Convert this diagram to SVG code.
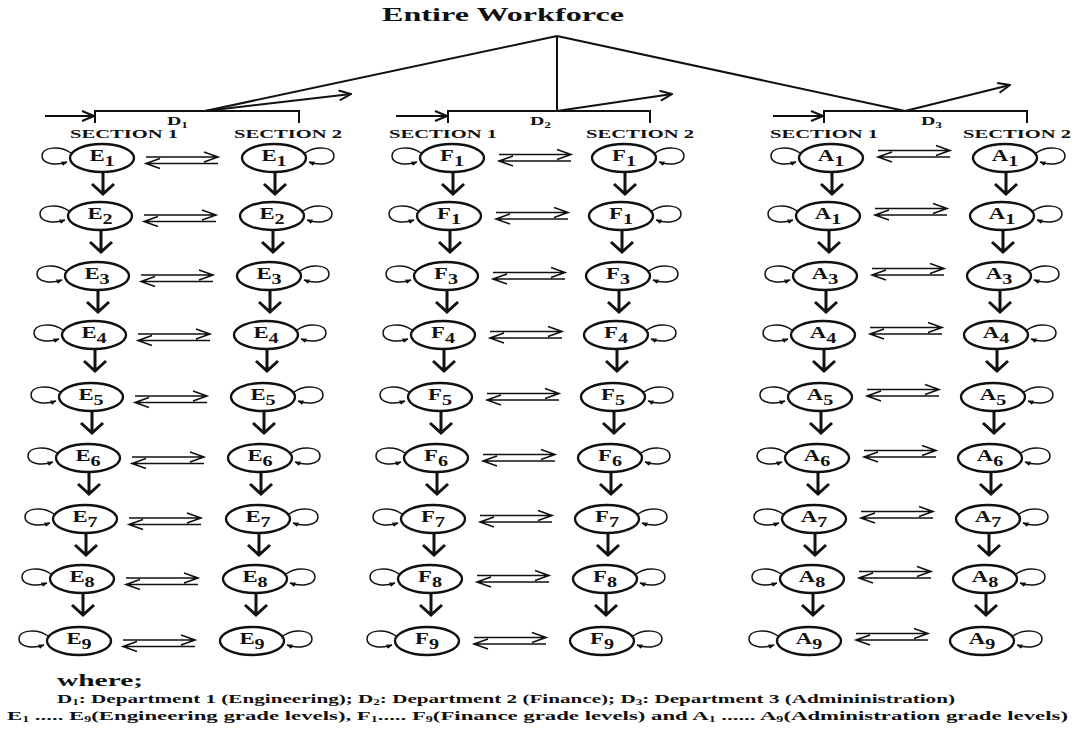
<svg xmlns="http://www.w3.org/2000/svg" xmlns:xlink="http://www.w3.org/1999/xlink" width="1078" height="729" viewBox="0 0 1078 729">
<style>
text{font-family:"Liberation Serif","Times New Roman",serif;font-weight:bold;fill:#111}
.nd{fill:#fff;stroke:#111;stroke-width:2.4}
.lb{font-size:17.5px;text-anchor:middle}
.ss{font-size:15.5px}
.ln{fill:none;stroke:#111;stroke-width:2}
.sec{font-size:11.5px}
.dl{font-size:12px}
.leg{font-size:13px}
.sb{font-size:8px}
</style>
<defs>
<marker id="tri" viewBox="0 0 10 10" refX="9" refY="5" markerWidth="6" markerHeight="6" markerUnits="userSpaceOnUse" orient="auto"><path d="M0,1 L10,5 L0,9 z" fill="#111"/></marker>
<marker id="chev" viewBox="0 0 14 12" refX="13" refY="6" markerWidth="14" markerHeight="12" markerUnits="userSpaceOnUse" orient="auto"><path d="M1,1 L13,6 L1,11" fill="none" stroke="#111" stroke-width="2"/></marker>
<path id="loopL" d="M-31,-5 C-42,-13 -60,-11 -60,-2 C-60,6 -46,8 -35,4" fill="none" stroke="#111" stroke-width="1.5" marker-end="url(#tri)"/>
<path id="loopR" d="M31,-5 C42,-13 60,-11 60,-2 C60,6 46,8 35,4" fill="none" stroke="#111" stroke-width="1.5" marker-end="url(#tri)"/>
<path id="down" d="M0,15 V36 M-11,26 L0,36 L11,26" fill="none" stroke="#111" stroke-width="3"/>
<path id="dbl" d="M0,0 H72 M58,-5 L72,0 L58,5 M0,6.5 H72 M14,1.5 L0,6.5 L14,11.5" fill="none" stroke="#111" stroke-width="1.6"/>
</defs>
<rect width="1078" height="729" fill="#fff"/>

<g id="title"><text x="382" y="21" font-size="18.5" textLength="242" lengthAdjust="spacingAndGlyphs">Entire Workforce</text></g>

<g id="hierarchy">
<path class="ln" d="M557,36 L205,111 M557,36 V111 M557,36 L905,111"/>
<path class="ln" d="M95,123 V111 H299 V123 M448,123 V111 H650 V123 M824,123 V111 H1027 V123"/>
<path class="ln" marker-end="url(#chev)" d="M45,116 H94"/>
<path class="ln" marker-end="url(#chev)" d="M396,116 H447"/>
<path class="ln" marker-end="url(#chev)" d="M773,116 H823"/>
<path class="ln" marker-end="url(#chev)" d="M205,111 L351,94"/>
<path class="ln" marker-end="url(#chev)" d="M557,111 L672,94"/>
<path class="ln" marker-end="url(#chev)" d="M905,111 L1010,85"/>
<text class="dl" x="167" y="125" textLength="21" lengthAdjust="spacingAndGlyphs">D<tspan class="sb" font-size="9" dy="3">1</tspan></text>
<text class="dl" x="530" y="125" textLength="21" lengthAdjust="spacingAndGlyphs">D<tspan class="sb" font-size="9" dy="3">2</tspan></text>
<text class="dl" x="921" y="125" textLength="21" lengthAdjust="spacingAndGlyphs">D<tspan class="sb" font-size="9" dy="3">3</tspan></text>
<text class="sec" x="70" y="137.5" textLength="108" lengthAdjust="spacingAndGlyphs">SECTION 1</text>
<text class="sec" x="234" y="137.5" textLength="108" lengthAdjust="spacingAndGlyphs">SECTION 2</text>
<text class="sec" x="389" y="137.5" textLength="108" lengthAdjust="spacingAndGlyphs">SECTION 1</text>
<text class="sec" x="586" y="137.5" textLength="108" lengthAdjust="spacingAndGlyphs">SECTION 2</text>
<text class="sec" x="770" y="137.5" textLength="108" lengthAdjust="spacingAndGlyphs">SECTION 1</text>
<text class="sec" x="963" y="137.5" textLength="108" lengthAdjust="spacingAndGlyphs">SECTION 2</text>
</g>

<g id="connectors">
<use href="#down" x="103" y="158"/><use href="#down" x="101" y="216"/><use href="#down" x="98" y="276"/><use href="#down" x="95" y="335"/><use href="#down" x="92" y="397"/><use href="#down" x="89" y="458"/><use href="#down" x="86" y="519"/><use href="#down" x="83" y="579"/>
<use href="#down" x="275" y="158"/><use href="#down" x="273" y="216"/><use href="#down" x="270" y="276"/><use href="#down" x="267" y="335"/><use href="#down" x="264" y="397"/><use href="#down" x="261" y="458"/><use href="#down" x="259" y="519"/><use href="#down" x="256" y="579"/>
<use href="#down" x="453" y="158"/><use href="#down" x="450" y="216"/><use href="#down" x="447" y="276"/><use href="#down" x="444" y="335"/><use href="#down" x="441" y="397"/><use href="#down" x="437" y="458"/><use href="#down" x="434" y="519"/><use href="#down" x="431" y="579"/>
<use href="#down" x="625" y="158"/><use href="#down" x="622" y="216"/><use href="#down" x="619" y="276"/><use href="#down" x="617" y="335"/><use href="#down" x="614" y="397"/><use href="#down" x="611" y="458"/><use href="#down" x="608" y="519"/><use href="#down" x="606" y="579"/>
<use href="#down" x="832" y="158"/><use href="#down" x="829" y="216"/><use href="#down" x="826" y="276"/><use href="#down" x="824" y="335"/><use href="#down" x="821" y="397"/><use href="#down" x="818" y="458"/><use href="#down" x="815" y="519"/><use href="#down" x="813" y="579"/>
<use href="#down" x="1006" y="158"/><use href="#down" x="1003" y="216"/><use href="#down" x="1000" y="276"/><use href="#down" x="997" y="335"/><use href="#down" x="994" y="397"/><use href="#down" x="991" y="458"/><use href="#down" x="989" y="519"/><use href="#down" x="986" y="579"/>
<use href="#dbl" x="146" y="157"/><use href="#dbl" x="144" y="215"/><use href="#dbl" x="141" y="275"/><use href="#dbl" x="138" y="334"/><use href="#dbl" x="135" y="396"/><use href="#dbl" x="132" y="457"/><use href="#dbl" x="129" y="518"/><use href="#dbl" x="126" y="578"/><use href="#dbl" x="123" y="640"/>
<use href="#dbl" x="499" y="154.5"/><use href="#dbl" x="496" y="212.5"/><use href="#dbl" x="493" y="272.5"/><use href="#dbl" x="490" y="331.5"/><use href="#dbl" x="487" y="393.5"/><use href="#dbl" x="483" y="454.5"/><use href="#dbl" x="480" y="515.5"/><use href="#dbl" x="477" y="575.5"/><use href="#dbl" x="474" y="637.5"/>
<use href="#dbl" x="878" y="150.5"/><use href="#dbl" x="875" y="208.5"/><use href="#dbl" x="872" y="268.5"/><use href="#dbl" x="870" y="327.5"/><use href="#dbl" x="867" y="389.5"/><use href="#dbl" x="864" y="450.5"/><use href="#dbl" x="861" y="511.5"/><use href="#dbl" x="859" y="571.5"/><use href="#dbl" x="856" y="633.5"/>
</g>

<g id="E1-s1" transform="translate(102,158)"><ellipse class="nd" rx="32" ry="14"/><use href="#loopL"/><text class="lb" transform="scale(1.3,1)" y="3">E<tspan class="ss" dy="4.5">1</tspan></text></g>
<g id="E2-s1" transform="translate(100,216)"><ellipse class="nd" rx="32" ry="14"/><use href="#loopL"/><text class="lb" transform="scale(1.3,1)" y="3">E<tspan class="ss" dy="4.5">2</tspan></text></g>
<g id="E3-s1" transform="translate(97,276)"><ellipse class="nd" rx="32" ry="14"/><use href="#loopL"/><text class="lb" transform="scale(1.3,1)" y="3">E<tspan class="ss" dy="4.5">3</tspan></text></g>
<g id="E4-s1" transform="translate(94,335)"><ellipse class="nd" rx="32" ry="14"/><use href="#loopL"/><text class="lb" transform="scale(1.3,1)" y="3">E<tspan class="ss" dy="4.5">4</tspan></text></g>
<g id="E5-s1" transform="translate(91,397)"><ellipse class="nd" rx="32" ry="14"/><use href="#loopL"/><text class="lb" transform="scale(1.3,1)" y="3">E<tspan class="ss" dy="4.5">5</tspan></text></g>
<g id="E6-s1" transform="translate(88,458)"><ellipse class="nd" rx="32" ry="14"/><use href="#loopL"/><text class="lb" transform="scale(1.3,1)" y="3">E<tspan class="ss" dy="4.5">6</tspan></text></g>
<g id="E7-s1" transform="translate(85,519)"><ellipse class="nd" rx="32" ry="14"/><use href="#loopL"/><text class="lb" transform="scale(1.3,1)" y="3">E<tspan class="ss" dy="4.5">7</tspan></text></g>
<g id="E8-s1" transform="translate(82,579)"><ellipse class="nd" rx="32" ry="14"/><use href="#loopL"/><text class="lb" transform="scale(1.3,1)" y="3">E<tspan class="ss" dy="4.5">8</tspan></text></g>
<g id="E9-s1" transform="translate(79,641)"><ellipse class="nd" rx="32" ry="14"/><use href="#loopL"/><text class="lb" transform="scale(1.3,1)" y="3">E<tspan class="ss" dy="4.5">9</tspan></text></g>

<g id="E1-s2" transform="translate(274,158)"><ellipse class="nd" rx="32" ry="14"/><use href="#loopR"/><text class="lb" transform="scale(1.3,1)" y="3">E<tspan class="ss" dy="4.5">1</tspan></text></g>
<g id="E2-s2" transform="translate(272,216)"><ellipse class="nd" rx="32" ry="14"/><use href="#loopR"/><text class="lb" transform="scale(1.3,1)" y="3">E<tspan class="ss" dy="4.5">2</tspan></text></g>
<g id="E3-s2" transform="translate(269,276)"><ellipse class="nd" rx="32" ry="14"/><use href="#loopR"/><text class="lb" transform="scale(1.3,1)" y="3">E<tspan class="ss" dy="4.5">3</tspan></text></g>
<g id="E4-s2" transform="translate(266,335)"><ellipse class="nd" rx="32" ry="14"/><use href="#loopR"/><text class="lb" transform="scale(1.3,1)" y="3">E<tspan class="ss" dy="4.5">4</tspan></text></g>
<g id="E5-s2" transform="translate(263,397)"><ellipse class="nd" rx="32" ry="14"/><use href="#loopR"/><text class="lb" transform="scale(1.3,1)" y="3">E<tspan class="ss" dy="4.5">5</tspan></text></g>
<g id="E6-s2" transform="translate(260,458)"><ellipse class="nd" rx="32" ry="14"/><use href="#loopR"/><text class="lb" transform="scale(1.3,1)" y="3">E<tspan class="ss" dy="4.5">6</tspan></text></g>
<g id="E7-s2" transform="translate(258,519)"><ellipse class="nd" rx="32" ry="14"/><use href="#loopR"/><text class="lb" transform="scale(1.3,1)" y="3">E<tspan class="ss" dy="4.5">7</tspan></text></g>
<g id="E8-s2" transform="translate(255,579)"><ellipse class="nd" rx="32" ry="14"/><use href="#loopR"/><text class="lb" transform="scale(1.3,1)" y="3">E<tspan class="ss" dy="4.5">8</tspan></text></g>
<g id="E9-s2" transform="translate(252,641)"><ellipse class="nd" rx="32" ry="14"/><use href="#loopR"/><text class="lb" transform="scale(1.3,1)" y="3">E<tspan class="ss" dy="4.5">9</tspan></text></g>

<g id="F1-s1" transform="translate(452,158)"><ellipse class="nd" rx="32" ry="14"/><use href="#loopL"/><text class="lb" transform="scale(1.3,1)" y="3">F<tspan class="ss" dy="4.5">1</tspan></text></g>
<g id="F2-s1" transform="translate(449,216)"><ellipse class="nd" rx="32" ry="14"/><use href="#loopL"/><text class="lb" transform="scale(1.3,1)" y="3">F<tspan class="ss" dy="4.5">1</tspan></text></g>
<g id="F3-s1" transform="translate(446,276)"><ellipse class="nd" rx="32" ry="14"/><use href="#loopL"/><text class="lb" transform="scale(1.3,1)" y="3">F<tspan class="ss" dy="4.5">3</tspan></text></g>
<g id="F4-s1" transform="translate(443,335)"><ellipse class="nd" rx="32" ry="14"/><use href="#loopL"/><text class="lb" transform="scale(1.3,1)" y="3">F<tspan class="ss" dy="4.5">4</tspan></text></g>
<g id="F5-s1" transform="translate(440,397)"><ellipse class="nd" rx="32" ry="14"/><use href="#loopL"/><text class="lb" transform="scale(1.3,1)" y="3">F<tspan class="ss" dy="4.5">5</tspan></text></g>
<g id="F6-s1" transform="translate(436,458)"><ellipse class="nd" rx="32" ry="14"/><use href="#loopL"/><text class="lb" transform="scale(1.3,1)" y="3">F<tspan class="ss" dy="4.5">6</tspan></text></g>
<g id="F7-s1" transform="translate(433,519)"><ellipse class="nd" rx="32" ry="14"/><use href="#loopL"/><text class="lb" transform="scale(1.3,1)" y="3">F<tspan class="ss" dy="4.5">7</tspan></text></g>
<g id="F8-s1" transform="translate(430,579)"><ellipse class="nd" rx="32" ry="14"/><use href="#loopL"/><text class="lb" transform="scale(1.3,1)" y="3">F<tspan class="ss" dy="4.5">8</tspan></text></g>
<g id="F9-s1" transform="translate(427,641)"><ellipse class="nd" rx="32" ry="14"/><use href="#loopL"/><text class="lb" transform="scale(1.3,1)" y="3">F<tspan class="ss" dy="4.5">9</tspan></text></g>

<g id="F1-s2" transform="translate(624,158)"><ellipse class="nd" rx="32" ry="14"/><use href="#loopR"/><text class="lb" transform="scale(1.3,1)" y="3">F<tspan class="ss" dy="4.5">1</tspan></text></g>
<g id="F2-s2" transform="translate(621,216)"><ellipse class="nd" rx="32" ry="14"/><use href="#loopR"/><text class="lb" transform="scale(1.3,1)" y="3">F<tspan class="ss" dy="4.5">1</tspan></text></g>
<g id="F3-s2" transform="translate(618,276)"><ellipse class="nd" rx="32" ry="14"/><use href="#loopR"/><text class="lb" transform="scale(1.3,1)" y="3">F<tspan class="ss" dy="4.5">3</tspan></text></g>
<g id="F4-s2" transform="translate(616,335)"><ellipse class="nd" rx="32" ry="14"/><use href="#loopR"/><text class="lb" transform="scale(1.3,1)" y="3">F<tspan class="ss" dy="4.5">4</tspan></text></g>
<g id="F5-s2" transform="translate(613,397)"><ellipse class="nd" rx="32" ry="14"/><use href="#loopR"/><text class="lb" transform="scale(1.3,1)" y="3">F<tspan class="ss" dy="4.5">5</tspan></text></g>
<g id="F6-s2" transform="translate(610,458)"><ellipse class="nd" rx="32" ry="14"/><use href="#loopR"/><text class="lb" transform="scale(1.3,1)" y="3">F<tspan class="ss" dy="4.5">6</tspan></text></g>
<g id="F7-s2" transform="translate(607,519)"><ellipse class="nd" rx="32" ry="14"/><use href="#loopR"/><text class="lb" transform="scale(1.3,1)" y="3">F<tspan class="ss" dy="4.5">7</tspan></text></g>
<g id="F8-s2" transform="translate(605,579)"><ellipse class="nd" rx="32" ry="14"/><use href="#loopR"/><text class="lb" transform="scale(1.3,1)" y="3">F<tspan class="ss" dy="4.5">8</tspan></text></g>
<g id="F9-s2" transform="translate(602,641)"><ellipse class="nd" rx="32" ry="14"/><use href="#loopR"/><text class="lb" transform="scale(1.3,1)" y="3">F<tspan class="ss" dy="4.5">9</tspan></text></g>

<g id="A1-s1" transform="translate(831,158)"><ellipse class="nd" rx="32" ry="14"/><use href="#loopL"/><text class="lb" transform="scale(1.3,1)" y="3">A<tspan class="ss" dy="4.5">1</tspan></text></g>
<g id="A2-s1" transform="translate(828,216)"><ellipse class="nd" rx="32" ry="14"/><use href="#loopL"/><text class="lb" transform="scale(1.3,1)" y="3">A<tspan class="ss" dy="4.5">1</tspan></text></g>
<g id="A3-s1" transform="translate(825,276)"><ellipse class="nd" rx="32" ry="14"/><use href="#loopL"/><text class="lb" transform="scale(1.3,1)" y="3">A<tspan class="ss" dy="4.5">3</tspan></text></g>
<g id="A4-s1" transform="translate(823,335)"><ellipse class="nd" rx="32" ry="14"/><use href="#loopL"/><text class="lb" transform="scale(1.3,1)" y="3">A<tspan class="ss" dy="4.5">4</tspan></text></g>
<g id="A5-s1" transform="translate(820,397)"><ellipse class="nd" rx="32" ry="14"/><use href="#loopL"/><text class="lb" transform="scale(1.3,1)" y="3">A<tspan class="ss" dy="4.5">5</tspan></text></g>
<g id="A6-s1" transform="translate(817,458)"><ellipse class="nd" rx="32" ry="14"/><use href="#loopL"/><text class="lb" transform="scale(1.3,1)" y="3">A<tspan class="ss" dy="4.5">6</tspan></text></g>
<g id="A7-s1" transform="translate(814,519)"><ellipse class="nd" rx="32" ry="14"/><use href="#loopL"/><text class="lb" transform="scale(1.3,1)" y="3">A<tspan class="ss" dy="4.5">7</tspan></text></g>
<g id="A8-s1" transform="translate(812,579)"><ellipse class="nd" rx="32" ry="14"/><use href="#loopL"/><text class="lb" transform="scale(1.3,1)" y="3">A<tspan class="ss" dy="4.5">8</tspan></text></g>
<g id="A9-s1" transform="translate(809,641)"><ellipse class="nd" rx="32" ry="14"/><use href="#loopL"/><text class="lb" transform="scale(1.3,1)" y="3">A<tspan class="ss" dy="4.5">9</tspan></text></g>

<g id="A1-s2" transform="translate(1005,158)"><ellipse class="nd" rx="32" ry="14"/><use href="#loopR"/><text class="lb" transform="scale(1.3,1)" y="3">A<tspan class="ss" dy="4.5">1</tspan></text></g>
<g id="A2-s2" transform="translate(1002,216)"><ellipse class="nd" rx="32" ry="14"/><use href="#loopR"/><text class="lb" transform="scale(1.3,1)" y="3">A<tspan class="ss" dy="4.5">1</tspan></text></g>
<g id="A3-s2" transform="translate(999,276)"><ellipse class="nd" rx="32" ry="14"/><use href="#loopR"/><text class="lb" transform="scale(1.3,1)" y="3">A<tspan class="ss" dy="4.5">3</tspan></text></g>
<g id="A4-s2" transform="translate(996,335)"><ellipse class="nd" rx="32" ry="14"/><use href="#loopR"/><text class="lb" transform="scale(1.3,1)" y="3">A<tspan class="ss" dy="4.5">4</tspan></text></g>
<g id="A5-s2" transform="translate(993,397)"><ellipse class="nd" rx="32" ry="14"/><use href="#loopR"/><text class="lb" transform="scale(1.3,1)" y="3">A<tspan class="ss" dy="4.5">5</tspan></text></g>
<g id="A6-s2" transform="translate(990,458)"><ellipse class="nd" rx="32" ry="14"/><use href="#loopR"/><text class="lb" transform="scale(1.3,1)" y="3">A<tspan class="ss" dy="4.5">6</tspan></text></g>
<g id="A7-s2" transform="translate(988,519)"><ellipse class="nd" rx="32" ry="14"/><use href="#loopR"/><text class="lb" transform="scale(1.3,1)" y="3">A<tspan class="ss" dy="4.5">7</tspan></text></g>
<g id="A8-s2" transform="translate(985,579)"><ellipse class="nd" rx="32" ry="14"/><use href="#loopR"/><text class="lb" transform="scale(1.3,1)" y="3">A<tspan class="ss" dy="4.5">8</tspan></text></g>
<g id="A9-s2" transform="translate(982,641)"><ellipse class="nd" rx="32" ry="14"/><use href="#loopR"/><text class="lb" transform="scale(1.3,1)" y="3">A<tspan class="ss" dy="4.5">9</tspan></text></g>

<g id="legend">
<text x="57" y="686" font-size="17.5" textLength="86" lengthAdjust="spacingAndGlyphs">where;</text>
<text class="leg" x="57" y="703" textLength="898" lengthAdjust="spacingAndGlyphs">D<tspan class="sb" dy="2">1</tspan><tspan dy="-2">: Department 1 (Engineering); D</tspan><tspan class="sb" dy="2">2</tspan><tspan dy="-2">: Department 2 (Finance); D</tspan><tspan class="sb" dy="2">3</tspan><tspan dy="-2">: Department 3 (Admininistration)</tspan></text>
<text class="leg" x="7" y="720" textLength="1061" lengthAdjust="spacingAndGlyphs">E<tspan class="sb" dy="2">1</tspan><tspan dy="-2"> ..... E</tspan><tspan class="sb" dy="2">9</tspan><tspan dy="-2">(Engineering grade levels), F</tspan><tspan class="sb" dy="2">1</tspan><tspan dy="-2">..... F</tspan><tspan class="sb" dy="2">9</tspan><tspan dy="-2">(Finance grade levels) and A</tspan><tspan class="sb" dy="2">1</tspan><tspan dy="-2"> ...... A</tspan><tspan class="sb" dy="2">9</tspan><tspan dy="-2">(Administration grade levels)</tspan></text>
</g>
</svg>
